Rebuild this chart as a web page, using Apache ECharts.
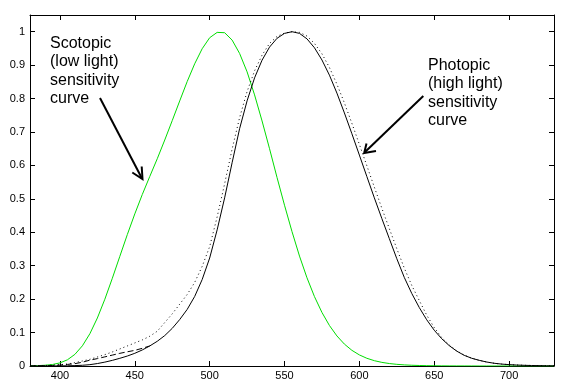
<!DOCTYPE html>
<html>
<head>
<meta charset="utf-8">
<script src="https://cdn.jsdelivr.net/npm/echarts@6/dist/echarts.min.js"></script>
<style>
html,body{margin:0;padding:0;background:#fff;}
#chart{width:570px;height:390px;}
</style>
</head>
<body>
<div id="chart"></div>
<script>
// Wavelength (nm)
var wavelengths = [380,385,390,395,400,405,410,415,420,425,430,435,440,445,450,455,460,465,470,475,480,485,490,495,500,505,510,515,520,525,530,535,540,545,550,555,560,565,570,575,580,585,590,595,600,605,610,615,620,625,630,635,640,645,650,655,660,665,670,675,680,685,690,695,700,705,710,715,720,725,730];

// X tick labels
var xTicks = [400,450,500,550,600,650,700];

// Photopic (solid black)
var photopic = [0.000039,0.000064,0.00012,0.000217,0.000396,0.00064,0.00121,0.00218,0.004,0.0073,0.0116,0.01684,0.023,0.0298,0.038,0.048,0.06,0.0739,0.091,0.1126,0.139,0.1693,0.208,0.2586,0.323,0.4073,0.503,0.6082,0.71,0.7932,0.862,0.91485,0.954,0.9803,0.99495,1.0,0.995,0.9786,0.952,0.9154,0.87,0.8163,0.757,0.6949,0.631,0.5668,0.503,0.4412,0.381,0.321,0.265,0.217,0.175,0.1382,0.107,0.0816,0.061,0.04458,0.032,0.0232,0.017,0.01192,0.00821,0.005723,0.004102,0.002929,0.002091,0.001484,0.001047,0.00074,0.00052];

// Photopic, alternative (dotted black)
var photopicDotted = [0.0004,0.0008,0.0015,0.0025,0.004,0.006,0.010,0.015,0.020,0.027,0.034,0.042,0.051,0.060,0.069,0.078,0.089,0.104,0.130,0.156,0.185,0.214,0.250,0.298,0.357,0.446,0.545,0.649,0.743,0.821,0.883,0.930,0.965,0.986,0.996,1.0,0.998,0.987,0.965,0.934,0.893,0.843,0.787,0.726,0.663,0.599,0.535,0.472,0.411,0.351,0.293,0.241,0.196,0.152,0.115,0.085,0.063,0.0455,0.0325,0.0235,0.017,0.0119,0.0082,0.0057,0.0041,0.0029,0.0021,0.0015,0.001,0.0007,0.0005];

// Photopic, short-wave correction (dashed black)
var dashedWavelengths = [380,385,390,395,400,405,410,415,420,425,430,435,440,445,450,455,460];
var photopicDashed = [0.0002,0.0004,0.0008,0.0015,0.0028,0.0047,0.007,0.0114,0.0175,0.0221,0.0273,0.0326,0.0379,0.0425,0.0468,0.0529,0.06];

// Scotopic (green)
var scotopic = [0.000589,0.001108,0.002209,0.00453,0.00929,0.01852,0.03484,0.0604,0.0966,0.1436,0.1998,0.2625,0.3281,0.3931,0.455,0.513,0.567,0.62,0.676,0.734,0.793,0.851,0.904,0.949,0.982,0.998,0.997,0.975,0.935,0.88,0.811,0.733,0.65,0.564,0.481,0.402,0.3288,0.2639,0.2076,0.1602,0.1212,0.0899,0.0655,0.0469,0.03315,0.02312,0.01593,0.01088,0.00737,0.00497,0.003335,0.002235,0.001497,0.001005,0.000677,0.000459,0.000313,0.000215,0.000148,0.000103,0.0000715,0.00005,0.0000353,0.000025,0.0000178,0.0000128,0.0000093,0.0000067,0.0000049,0.0000036,0.0000026];

function pairs(xs, ys){ var out=[]; for(var i=0;i<xs.length;i++){ out.push([xs[i], ys[i]]); } return out; }

var chart = echarts.init(document.getElementById('chart'), null, {renderer:'canvas'});
var font = 'Liberation Sans, Arial, sans-serif';
function xAxisDef(pos, showLabel){
  return {type:'value',position:pos,min:380,max:730,
    axisLine:{show:true,onZero:false,lineStyle:{color:'#000',width:1}},
    axisTick:{show:true,inside:true,length:5,customValues:xTicks,lineStyle:{color:'#000'}},
    axisLabel:{show:showLabel,customValues:xTicks,color:'#000',fontSize:11,fontFamily:font,margin:4},
    splitLine:{show:false}};
}
function yAxisDef(pos, showLabel){
  return {type:'value',position:pos,min:0,max:1.05,interval:0.1,
    axisLine:{show:true,onZero:false,lineStyle:{color:'#000',width:1}},
    axisTick:{show:true,inside:true,length:5,lineStyle:{color:'#000'}},
    axisLabel:{show:showLabel,color:'#000',fontSize:11,fontFamily:font,margin:5,
      formatter:function(v){return v>1.001?'':String(Math.round(v*10)/10);}},
    splitLine:{show:false}};
}
var option = {
  backgroundColor:'#fff',
  animation:false,
  grid:{left:30,top:15,right:16,bottom:24,containLabel:false},
  xAxis:[xAxisDef('bottom',true), xAxisDef('top',false)],
  yAxis:[yAxisDef('left',true), yAxisDef('right',false)],
  series:[
    {type:'line',name:'Scotopic',data:pairs(wavelengths,scotopic),showSymbol:false,
      lineStyle:{color:'#00dd00',width:1},z:3},
    {type:'line',name:'Photopic',data:pairs(wavelengths,photopic),showSymbol:false,
      lineStyle:{color:'#000',width:1},z:4},
    {type:'line',name:'Photopic dotted',data:pairs(wavelengths,photopicDotted),showSymbol:false,
      lineStyle:{color:'#000',width:1,type:[1,3]},z:4},
    {type:'line',name:'Photopic dashed',data:pairs(dashedWavelengths,photopicDashed),showSymbol:false,
      lineStyle:{color:'#000',width:1,type:[6,3]},z:4}
  ],
  graphic:[
    {type:'text',left:50,top:34,style:{text:'Scotopic\n(low light)\nsensitivity\ncurve',
      font:'16px '+font,fill:'#000',lineHeight:18.5}},
    {type:'text',left:428,top:56,style:{text:'Photopic\n(high light)\nsensitivity\ncurve',
      font:'16px '+font,fill:'#000',lineHeight:18.5}},
    {type:'line',shape:{x1:100,y1:98,x2:142,y2:178.5},style:{stroke:'#000',lineWidth:2}},
    {type:'polyline',shape:{points:[[132.3,172.5],[142.5,179],[141.7,166.5]]},style:{stroke:'#000',lineWidth:2,fill:null}},
    {type:'line',shape:{x1:423.3,y1:96,x2:364.5,y2:152.5},style:{stroke:'#000',lineWidth:2}},
    {type:'polyline',shape:{points:[[366.5,143.5],[364.2,153],[376,151]]},style:{stroke:'#000',lineWidth:2,fill:null}}
  ]
};
chart.setOption(option);
</script>
</body>
</html>
